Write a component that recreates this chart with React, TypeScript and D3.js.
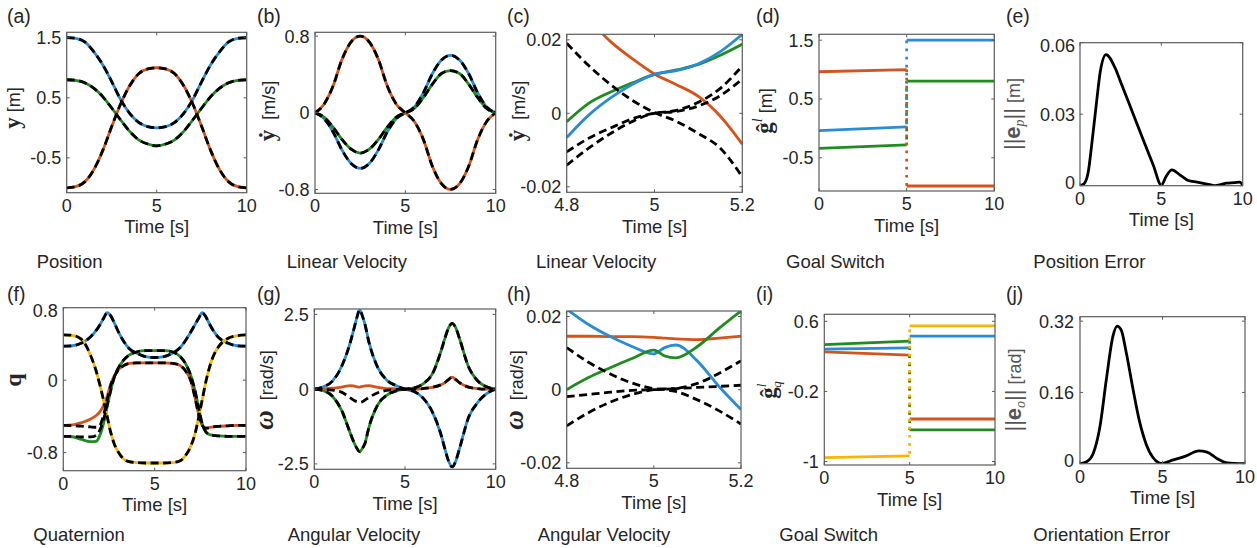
import React from 'react';
import * as d3 from 'd3';

const BLUE = '#2a8bd6';
const ORANGE = '#d6541b';
const GREEN = '#1f8c1f';
const YELLOW = '#f8b600';
const INK = '#262626';
const SANS = "'Liberation Sans', Arial, Helvetica, sans-serif";
const SERIF = "'Liberation Serif', 'DejaVu Serif', 'Times New Roman', serif";

// ---- tick values ----
const timeTicks = [0, 5, 10];
const zoomTicks = [4.8, 5, 5.2];
const posTicks = [-0.5, 0.5, 1.5];
const velTicks = [-0.8, 0, 0.8];
const smallTicks = [-0.02, 0, 0.02];
const errPTicks = [0, 0.03, 0.06];
const quatTicks = [-0.8, 0, 0.8];
const angTicks = [-2.5, 0, 2.5];
const goalQTicks = [-1, -0.2, 0.6];
const errOTicks = [0, 0.16, 0.32];

// ---- (a) position / (b) linear velocity ----
const tAB = [0, 0.5, 1, 1.5, 2, 2.5, 3, 3.5, 4, 4.5, 5, 5.5, 6, 6.5, 7, 7.5, 8, 8.5, 9, 9.5, 10];
const posBlue = [1.5, 1.49, 1.43, 1.27, 1.05, 0.77, 0.47, 0.24, 0.09, 0.02, 0, 0.02, 0.09, 0.24, 0.47, 0.77, 1.05, 1.27, 1.43, 1.49, 1.5];
const posGreen = [0.8, 0.79, 0.75, 0.66, 0.52, 0.33, 0.13, -0.06, -0.2, -0.27, -0.3, -0.27, -0.2, -0.06, 0.13, 0.33, 0.52, 0.66, 0.75, 0.79, 0.8];
const posOrange = [-1, -0.98, -0.9, -0.7, -0.38, 0.02, 0.4, 0.7, 0.9, 0.98, 1, 0.98, 0.9, 0.7, 0.4, 0.02, -0.38, -0.7, -0.9, -0.98, -1];
const velOrange = [0, 0.09, 0.28, 0.56, 0.74, 0.8, 0.74, 0.56, 0.28, 0.09, 0, -0.09, -0.28, -0.56, -0.74, -0.8, -0.74, -0.56, -0.28, -0.09, 0];
const velBlue = [0, -0.06, -0.2, -0.39, -0.53, -0.58, -0.53, -0.39, -0.2, -0.06, 0, 0.06, 0.21, 0.41, 0.55, 0.6, 0.55, 0.41, 0.21, 0.06, 0];
const velGreen = [0, -0.045, -0.15, -0.28, -0.38, -0.42, -0.38, -0.28, -0.15, -0.045, 0, 0.045, 0.16, 0.3, 0.41, 0.44, 0.41, 0.3, 0.16, 0.045, 0];

// ---- (c) linear velocity zoom ----
const cT = [4.8, 4.85, 4.9, 4.95, 5, 5.05, 5.1, 5.15, 5.2];
const cOrange = [0.031, 0.0255, 0.0195, 0.0148, 0.0107, 0.0078, 0.0046, -0.0008, -0.0084];
const cGreen = [-0.0023, 0.0027, 0.0058, 0.0083, 0.0106, 0.0118, 0.0133, 0.0158, 0.0188];
const cBlue = [-0.0066, -0.0005, 0.0042, 0.0079, 0.0106, 0.0116, 0.0135, 0.0168, 0.0215];
const cRef1 = [0.0191, 0.013, 0.0078, 0.0035, 0.0002, -0.0022, -0.0055, -0.0095, -0.0173];
const cRef2 = [-0.0105, -0.0068, -0.004, -0.0015, 0, 0.0008, 0.003, 0.0068, 0.0129];
const cRef3 = [-0.0141, -0.0095, -0.0055, -0.0022, 0, 0.0005, 0.002, 0.0048, 0.0093];

// ---- (d) goal switch, position ----
const preT = [0, 5];
const postT = [5, 10];
const dBluePre = [-0.037, 0.025];
const dBluePost = [1.5, 1.5];
const dOrangePre = [0.963, 1.0];
const dOrangePost = [-0.98, -0.98];
const dGreenPre = [-0.34, -0.28];
const dGreenPost = [0.805, 0.805];

// ---- (e) position error ----
const eT = [0, 0.25, 0.5, 0.75, 1, 1.25, 1.6, 2.15, 2.5, 3, 3.5, 4, 4.5, 5, 5.3, 5.65, 6.15, 6.65, 7.2, 7.8, 8.3, 8.7, 9, 9.5, 9.8, 10];
const errP = [0, 0.0008, 0.0055, 0.019, 0.034, 0.048, 0.055, 0.0495, 0.0435, 0.0348, 0.026, 0.0173, 0.0087, 0.0002, 0.004, 0.0066, 0.0045, 0.0022, 0.0015, 0.0007, 0, 0.0006, 0.0011, 0.0013, 0.0015, 0.0004];

// ---- (f) quaternion ----
const fT = [0, 0.5, 1, 1.5, 1.8, 2, 2.2, 2.4, 2.6, 2.8, 3, 3.3, 3.6, 4, 4.5, 5, 5.5, 6, 6.4, 6.7, 7, 7.2, 7.4, 7.6, 7.8, 8, 8.2, 8.5, 9, 9.5, 10];
const qBlue = [0.376, 0.38, 0.41, 0.48, 0.55, 0.61, 0.68, 0.745, 0.71, 0.63, 0.54, 0.43, 0.35, 0.3, 0.26, 0.25, 0.26, 0.3, 0.36, 0.44, 0.54, 0.61, 0.68, 0.745, 0.7, 0.62, 0.55, 0.47, 0.41, 0.38, 0.376];
const qYellow = [0.5, 0.495, 0.45, 0.27, 0.1, -0.05, -0.22, -0.4, -0.58, -0.71, -0.79, -0.87, -0.9, -0.91, -0.915, -0.915, -0.915, -0.91, -0.89, -0.83, -0.72, -0.6, -0.42, -0.22, -0.02, 0.14, 0.26, 0.37, 0.46, 0.49, 0.5];
const qGreen = [-0.62, -0.625, -0.655, -0.68, -0.675, -0.61, -0.48, -0.295, -0.11, 0.037, 0.13, 0.22, 0.277, 0.31, 0.325, 0.325, 0.325, 0.31, 0.26, 0.18, 0.037, -0.11, -0.295, -0.48, -0.57, -0.6, -0.61, -0.616, -0.62, -0.62, -0.62];
const qGreenRef = [-0.62, -0.622, -0.627, -0.627, -0.61, -0.553, -0.44, -0.277, -0.11, 0.037, 0.13, 0.22, 0.277, 0.31, 0.325, 0.325, 0.325, 0.31, 0.26, 0.18, 0.037, -0.11, -0.295, -0.48, -0.57, -0.6, -0.61, -0.616, -0.62, -0.62, -0.62];
const qOrange = [-0.5, -0.495, -0.47, -0.43, -0.39, -0.35, -0.28, -0.18, -0.04, 0.05, 0.11, 0.16, 0.185, 0.19, 0.19, 0.19, 0.19, 0.185, 0.16, 0.1, -0.018, -0.185, -0.37, -0.5, -0.53, -0.524, -0.515, -0.51, -0.505, -0.5, -0.5];
const qOrangeRef = [-0.5, -0.503, -0.508, -0.517, -0.52, -0.5, -0.39, -0.22, -0.055, 0.044, 0.11, 0.16, 0.185, 0.19, 0.19, 0.19, 0.19, 0.185, 0.16, 0.1, -0.018, -0.185, -0.37, -0.5, -0.53, -0.524, -0.515, -0.51, -0.505, -0.5, -0.5];

// ---- (g) angular velocity ----
const gT = [0, 0.5, 1, 1.5, 2, 2.2, 2.35, 2.5, 2.65, 2.8, 3, 3.5, 4, 4.5, 5, 5.5, 6, 6.5, 7, 7.2, 7.4, 7.6, 7.8, 8, 8.5, 9, 9.5, 10];
const wBlue = [0, 0.08, 0.27, 0.75, 1.6, 2.05, 2.4, 2.65, 2.45, 2.15, 1.6, 0.72, 0.3, 0.12, 0, -0.08, -0.3, -0.75, -1.55, -2.0, -2.4, -2.6, -2.4, -2.0, -0.95, -0.45, -0.15, 0];
const wGreen = [0, -0.05, -0.24, -0.7, -1.5, -1.8, -1.98, -2.1, -1.98, -1.8, -1.3, -0.52, -0.2, -0.06, 0, 0.04, 0.18, 0.5, 1.3, 1.7, 2.05, 2.2, 2.05, 1.7, 0.75, 0.28, 0.08, 0];
const wOrange = [0, 0.01, 0.03, 0.07, 0.12, 0.1, 0.08, 0.07, 0.09, 0.11, 0.12, 0.06, 0.02, 0.01, 0, 0, 0.02, 0.06, 0.15, 0.22, 0.32, 0.4, 0.32, 0.22, 0.07, 0.02, 0, 0];
const wRef3 = [0, -0.01, -0.03, -0.1, -0.3, -0.38, -0.42, -0.44, -0.42, -0.36, -0.28, -0.12, -0.04, -0.01, 0, 0, 0.02, 0.06, 0.15, 0.22, 0.32, 0.4, 0.32, 0.22, 0.07, 0.02, 0, 0];

// ---- (h) angular velocity zoom ----
const hT = [4.8, 4.85, 4.9, 4.95, 5, 5.025, 5.05, 5.1, 5.15, 5.2];
const hOrange = [0.0146, 0.0146, 0.0145, 0.0145, 0.0143, 0.0141, 0.0139, 0.0137, 0.0141, 0.0146];
const hBlue = [0.022, 0.0178, 0.0145, 0.0118, 0.0098, 0.0115, 0.0122, 0.0078, 0.0008, -0.0054];
const hGreen = [0, 0.0033, 0.006, 0.0085, 0.0108, 0.0092, 0.0087, 0.0118, 0.0168, 0.0215];
const hRef1 = [0.0115, 0.0075, 0.0043, 0.0018, 0.0003, 0, -0.0005, -0.0028, -0.0058, -0.0094];
const hRef2 = [-0.0019, -0.0013, -0.0007, -0.0002, 0, 0.0001, 0.0003, 0.0017, 0.0045, 0.0079];
const hRef3 = [-0.0099, -0.0063, -0.0034, -0.0013, 0, 0.0002, 0.0003, 0.0006, 0.0009, 0.0012];

// ---- (i) goal switch, orientation ----
const iGreenPre = [0.335, 0.373];
const iGreenPost = [-0.64, -0.64];
const iBluePre = [0.282, 0.297];
const iBluePost = [0.43, 0.43];
const iOrangePre = [0.251, 0.213];
const iOrangePost = [-0.515, -0.515];
const iYellowPre = [-0.955, -0.936];
const iYellowPost = [0.547, 0.547];

// ---- (j) orientation error ----
const jT = [0, 0.4, 0.8, 1.2, 1.6, 2.0, 2.25, 2.5, 2.8, 3.2, 3.6, 4.0, 4.4, 4.95, 5.6, 6.4, 7.2, 7.7, 8.3, 8.9, 10];
const errO = [0, 0.0044, 0.023, 0.081, 0.19, 0.287, 0.309, 0.3, 0.25, 0.17, 0.096, 0.045, 0.015, 0.0007, 0.008, 0.017, 0.0286, 0.026, 0.0117, 0.002, 0];

type Series = { t: number[]; v: number[]; color: string; dash?: boolean };
type Step = { pre: number[]; post: number[]; color: string; off: number };

const solid = (t: number[], v: number[], color: string): Series => ({ t, v, color });
const dashed = (t: number[], v: number[]): Series => ({ t, v, color: '#000', dash: true });

const panels = [
  { id: 'a', tag: '(a)', caption: 'Position', box: [66.7, 246.7, 32.3, 192.7], xd: [0, 10], yd: [-1.08, 1.59], xt: timeTicks, yt: posTicks, tag0: [7, 23], cap: [36.7, 268], yl: [20, 108], gap: 5.5,
    series: [solid(tAB, posBlue, BLUE), solid(tAB, posGreen, GREEN), solid(tAB, posOrange, ORANGE), dashed(tAB, posBlue), dashed(tAB, posGreen), dashed(tAB, posOrange)] },
  { id: 'b', tag: '(b)', caption: 'Linear Velocity', box: [315, 495.7, 32.3, 193.3], xd: [0, 10], yd: [-0.84, 0.84], xt: timeTicks, yt: velTicks, tag0: [257, 23], cap: [286.7, 268], yl: [275, 111], gap: 5.5,
    series: [solid(tAB, velBlue, BLUE), solid(tAB, velGreen, GREEN), solid(tAB, velOrange, ORANGE), dashed(tAB, velBlue), dashed(tAB, velGreen), dashed(tAB, velOrange)] },
  { id: 'c', tag: '(c)', caption: 'Linear Velocity', box: [566.7, 742.3, 34.3, 192.3], xd: [4.8, 5.2], yd: [-0.0215, 0.0215], xt: zoomTicks, yt: smallTicks, tag0: [507, 23], cap: [536, 268], yl: [525, 111], gap: 5.5,
    series: [solid(cT, cOrange, ORANGE), solid(cT, cGreen, GREEN), solid(cT, cBlue, BLUE), dashed(cT, cRef1), dashed(cT, cRef2), dashed(cT, cRef3)] },
  { id: 'd', tag: '(d)', caption: 'Goal Switch', box: [819, 994.3, 34.3, 191], xd: [0, 10], yd: [-1.065, 1.6], xt: timeTicks, yt: posTicks, tag0: [756, 23], cap: [786, 268], yl: [772, 111], gap: 5.5,
    steps: [{ pre: dOrangePre, post: dOrangePost, color: ORANGE, off: 0 }, { pre: dGreenPre, post: dGreenPost, color: GREEN, off: 2.7 }, { pre: dBluePre, post: dBluePost, color: BLUE, off: 5.4 }] },
  { id: 'e', tag: '(e)', caption: 'Position Error', box: [1080, 1242.7, 42.7, 185.7], xd: [0, 10], yd: [0, 0.06], xt: timeTicks, yt: errPTicks, tag0: [1006, 23], cap: [1033.3, 268], yl: [1020, 114], gap: 5,
    series: [solid(eT, errP, '#000')] },
  { id: 'f', tag: '(f)', caption: 'Quaternion', box: [63.3, 246, 307.7, 470.7], xd: [0, 10], yd: [-1, 0.8], xt: timeTicks, yt: quatTicks, tag0: [7, 301], cap: [33.3, 541], yl: [21, 380], gap: 5.5,
    series: [solid(fT, qOrange, ORANGE), solid(fT, qGreen, GREEN), solid(fT, qBlue, BLUE), solid(fT, qYellow, YELLOW), dashed(fT, qBlue), dashed(fT, qYellow), dashed(fT, qGreenRef), dashed(fT, qOrangeRef)] },
  { id: 'g', tag: '(g)', caption: 'Angular Velocity', box: [314.3, 495.7, 309, 469.3], xd: [0, 10], yd: [-2.68, 2.68], xt: timeTicks, yt: angTicks, tag0: [257, 301], cap: [287.7, 541], yl: [273, 390], gap: 5.5,
    series: [solid(gT, wBlue, BLUE), solid(gT, wGreen, GREEN), solid(gT, wOrange, ORANGE), dashed(gT, wBlue), dashed(gT, wGreen), dashed(gT, wRef3)] },
  { id: 'h', tag: '(h)', caption: 'Angular Velocity', box: [566.7, 741, 311, 468.3], xd: [4.8, 5.2], yd: [-0.0215, 0.0215], xt: zoomTicks, yt: smallTicks, tag0: [507, 301], cap: [537.7, 541], yl: [523, 390], gap: 5.5,
    series: [solid(hT, hOrange, ORANGE), solid(hT, hBlue, BLUE), solid(hT, hGreen, GREEN), dashed(hT, hRef1), dashed(hT, hRef2), dashed(hT, hRef3)] },
  { id: 'i', tag: '(i)', caption: 'Goal Switch', box: [824.3, 995, 314.3, 465], xd: [0, 10], yd: [-1.04, 0.68], xt: timeTicks, yt: goalQTicks, tag0: [756, 301], cap: [779.3, 541], yl: [776, 390], gap: 5.5,
    steps: [{ pre: iOrangePre, post: iOrangePost, color: ORANGE, off: 0 }, { pre: iGreenPre, post: iGreenPost, color: GREEN, off: 2 }, { pre: iBluePre, post: iBluePost, color: BLUE, off: 4 }, { pre: iYellowPre, post: iYellowPost, color: YELLOW, off: 6 }] },
  { id: 'j', tag: '(j)', caption: 'Orientation Error', box: [1080, 1245, 316.7, 463.7], xd: [0, 10], yd: [0, 0.33], xt: timeTicks, yt: errOTicks, tag0: [1006, 301], cap: [1033.3, 541], yl: [1021, 390], gap: 6,
    series: [solid(jT, errO, '#000')] },
];

const B = { fontFamily: SERIF, fontWeight: 'bold' as const };

function yLabel(id: string) {
  switch (id) {
    case 'a': return <><tspan {...B} fontSize={23}>y</tspan>{'\u00a0[m]'}</>;
    case 'b': case 'c': return <><tspan {...B} fontSize={23}>ẏ</tspan>{'\u00a0\u00a0[m/s]'}</>;
    case 'd': return <><tspan {...B} fontSize={23}>ĝ</tspan><tspan fontFamily={SERIF} fontStyle="italic" fontSize={14} dy={-10}>l</tspan><tspan dy={10}>{'\u00a0[m]'}</tspan></>;
    case 'e': return <><tspan fontSize={22}>||</tspan><tspan fontWeight="bold" fontSize={22}>e</tspan><tspan fontFamily={SERIF} fontStyle="italic" fontSize={14} dy={4}>p</tspan><tspan fontSize={22} dy={-4}>||</tspan>{'\u00a0[m]'}</>;
    case 'f': return <tspan {...B} fontSize={24}>q</tspan>;
    case 'g': case 'h': return <><tspan {...B} fontStyle="italic" fontSize={27}>ω</tspan>{'\u00a0\u00a0[rad/s]'}</>;
    case 'i': return <><tspan {...B} fontSize={23}>ĝ</tspan><tspan fontFamily={SERIF} fontStyle="italic" fontSize={13} dy={-10}>l</tspan><tspan fontFamily={SERIF} fontStyle="italic" fontSize={13} dx={-4} dy={15}>q</tspan></>;
    case 'j': return <><tspan fontSize={22}>||</tspan><tspan fontWeight="bold" fontSize={22}>e</tspan><tspan fontFamily={SERIF} fontStyle="italic" fontSize={14} dy={4}>o</tspan><tspan fontSize={22} dy={-4}>||</tspan>{'\u00a0[rad]'}</>;
  }
  return null;
}

function Panel({ p }: { p: any }) {
  const [x0, x1, y0, y1] = p.box;
  const x = d3.scaleLinear().domain(p.xd).range([x0, x1]);
  const y = d3.scaleLinear().domain(p.yd).range([y1, y0]);
  const curve = d3.line<[number, number]>().x(d => x(d[0])).y(d => y(d[1])).curve(d3.curveMonotoneX);
  const straight = d3.line<[number, number]>().x(d => x(d[0])).y(d => y(d[1]));
  const pts = (t: number[], v: number[]) => t.map((ti, i) => [ti, v[i]] as [number, number]);
  const clip = `clip-${p.id}`;
  const grey = p.id === 'e' || p.id === 'j' ? '#555' : INK;
  return (
    <g>
      <defs>
        <clipPath id={clip}><rect x={x0} y={y0} width={x1 - x0} height={y1 - y0} /></clipPath>
      </defs>
      <g clipPath={`url(#${clip})`}>
        {(p.series || []).map((s: Series, i: number) => (
          <path key={i} d={curve(pts(s.t, s.v)) || ''} fill="none" stroke={s.color} strokeWidth={2.8}
            strokeDasharray={s.dash ? '8 4.5' : undefined} strokeLinejoin="round" />
        ))}
        {(p.steps || []).map((s: Step, i: number) => (
          <g key={i}>
            <path d={straight(pts(preT, s.pre)) || ''} fill="none" stroke={s.color} strokeWidth={2.8} />
            <path d={straight(pts(postT, s.post)) || ''} fill="none" stroke={s.color} strokeWidth={2.8} />
          </g>
        ))}
        {(p.steps || []).map((s: Step, i: number) => (
          <path key={'v' + i} d={straight([[preT[1], s.pre[1]], [postT[0], s.post[0]]]) || ''} fill="none" stroke={s.color}
            strokeWidth={2.8} strokeDasharray="2.7 5.4" strokeDashoffset={s.off} />
        ))}
      </g>
      <rect x={x0} y={y0} width={x1 - x0} height={y1 - y0} fill="none" stroke="#5c5c5c" strokeWidth={1.2} />
      {p.xt.map((t: number) => (
        <g key={'xt' + t}>
          <line x1={x(t)} x2={x(t)} y1={y1} y2={y1 - 3} stroke="#5c5c5c" />
          <line x1={x(t)} x2={x(t)} y1={y0} y2={y0 + 3} stroke="#5c5c5c" />
          <text x={x(t)} y={y1 + 19} textAnchor="middle" fontSize={18} fontFamily={SANS} fill={INK}>{String(t)}</text>
        </g>
      ))}
      {p.yt.map((v: number) => (
        <g key={'yt' + v}>
          <line x1={x0} x2={x0 + 3} y1={y(v)} y2={y(v)} stroke="#5c5c5c" />
          <line x1={x1} x2={x1 - 3} y1={y(v)} y2={y(v)} stroke="#5c5c5c" />
          <text x={x0 - p.gap} y={Math.min(Math.max(y(v), y0 + 3), y1 - 3)} dy="0.36em" textAnchor="end" fontSize={18} fontFamily={SANS} fill={INK}>{String(v)}</text>
        </g>
      ))}
      <text x={(x0 + x1) / 2} y={y1 + 40.5} textAnchor="middle" fontSize={18.5} fontFamily={SANS} fill={INK}>Time [s]</text>
      <text x={p.yl[0]} y={p.yl[1]} transform={`rotate(-90 ${p.yl[0]} ${p.yl[1]})`} textAnchor="middle" fontSize={18} fontFamily={SANS} fill={grey}>
        {yLabel(p.id)}
      </text>
      <text x={p.tag0[0]} y={p.tag0[1]} fontSize={19.5} fontFamily={SANS} fill={INK}>{p.tag}</text>
      <text x={p.cap[0]} y={p.cap[1]} fontSize={18.5} fontFamily={SANS} fill={INK}>{p.caption}</text>
    </g>
  );
}

export default function App() {
  return (
    <div style={{ position: 'absolute', left: 0, top: 0 }}>
      <svg width={1257} height={548} style={{ display: 'block', background: '#fff' }}>
        {panels.map(p => <Panel key={p.id} p={p} />)}
      </svg>
    </div>
  );
}
